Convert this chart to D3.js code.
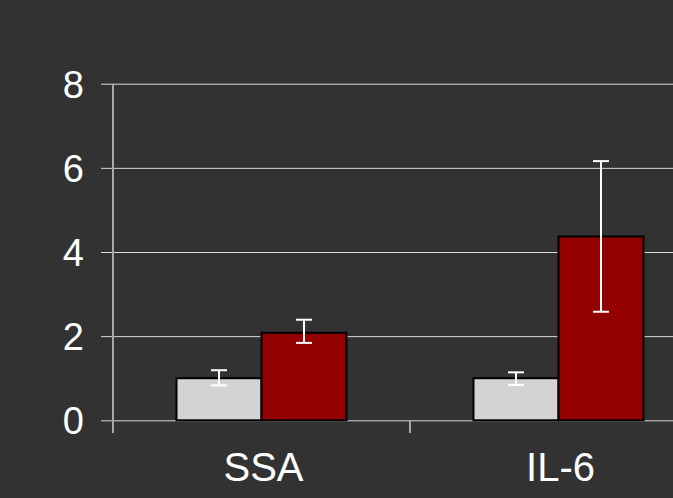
<!DOCTYPE html>
<html>
<head>
<meta charset="utf-8">
<script src="https://cdn.jsdelivr.net/npm/d3@7/dist/d3.min.js"></script>
<style>
  html, body { margin: 0; padding: 0; background: #323232; }
  svg { display: block; }
</style>
</head>
<body>
<svg id="chart" width="673" height="498"></svg>
<script>
// Fold-change of acute-phase markers: control vs. treated
const categories = ["SSA", "IL-6"];
const groups = ["control", "treated"];
const controlValues = [1.0, 1.0];
const treatedValues = [2.08, 4.37];
const controlLow = [0.83, 0.84];
const controlHigh = [1.19, 1.14];
const treatedLow = [1.84, 2.58];
const treatedHigh = [2.39, 6.16];
const yTicks = [0, 2, 4, 6, 8];

const colors = { control: "#d3d3d3", treated: "#920000" };

const svg = d3.select("#chart");
const W = 673, H = 498;
const plotLeft = 113, plotBottom = 420.3;

const x = d3.scaleBand().domain(categories).range([plotLeft, plotLeft + 594]).paddingInner(0).paddingOuter(0);
const inner = d3.scaleBand().domain(groups).range([0, x.bandwidth()]).paddingInner(0).paddingOuter(0.747);
const y = d3.scaleLinear().domain([0, 8]).range([plotBottom, 83.7]);

// horizontal gridlines with short left ticks
const grid = svg.append("g")
  .attr("transform", `translate(${plotLeft},0)`)
  .call(d3.axisLeft(y).tickValues(yTicks).tickSize(-(W - plotLeft + 40)).tickSizeOuter(0).tickFormat(""));
grid.select(".domain").remove();
grid.selectAll(".tick line").attr("stroke", "#d8d8d8").attr("stroke-width", 1).attr("x1", -12);

// y axis labels
const yAxis = svg.append("g")
  .attr("transform", `translate(${plotLeft},0)`)
  .call(d3.axisLeft(y).tickValues(yTicks).tickSize(0).tickPadding(29).tickFormat(d3.format("d")));
yAxis.select(".domain").remove();
yAxis.selectAll("text")
  .attr("fill", "#ffffff")
  .attr("font-family", "Liberation Sans, Arial, sans-serif")
  .attr("font-size", 38)
  .attr("dy", "0.36em");

// bars
const rows = categories.map((c, i) => ({
  cat: c,
  items: [
    { g: "control", v: controlValues[i], lo: controlLow[i], hi: controlHigh[i] },
    { g: "treated", v: treatedValues[i], lo: treatedLow[i], hi: treatedHigh[i] }
  ]
}));

const cat = svg.append("g").selectAll("g").data(rows).join("g")
  .attr("transform", d => `translate(${x(d.cat)},0)`);

cat.selectAll("rect").data(d => d.items).join("rect")
  .attr("x", d => inner(d.g))
  .attr("y", d => y(d.v))
  .attr("width", inner.bandwidth())
  .attr("height", d => y(0) - y(d.v))
  .attr("fill", d => colors[d.g])
  .attr("stroke", "#000")
  .attr("stroke-width", 2);

// error bars
const eb = cat.selectAll("g.err").data(d => d.items).join("g").attr("class", "err")
  .attr("transform", d => `translate(${inner(d.g) + inner.bandwidth() / 2},0)`);
eb.append("line")
  .attr("x1", 0).attr("x2", 0)
  .attr("y1", d => y(d.hi)).attr("y2", d => y(d.lo))
  .attr("stroke", "#ffffff").attr("stroke-width", 2);
eb.append("line")
  .attr("x1", -8).attr("x2", 8)
  .attr("y1", d => y(d.hi)).attr("y2", d => y(d.hi))
  .attr("stroke", "#ffffff").attr("stroke-width", 2);
eb.append("line")
  .attr("x1", -8).attr("x2", 8)
  .attr("y1", d => y(d.lo)).attr("y2", d => y(d.lo))
  .attr("stroke", "#ffffff").attr("stroke-width", 2);

// vertical axis line
svg.append("line")
  .attr("x1", plotLeft).attr("x2", plotLeft)
  .attr("y1", y(8)).attr("y2", 433)
  .attr("stroke", "#a8a8a8").attr("stroke-width", 2);

// x axis: category labels
const xAxis = svg.append("g")
  .attr("transform", `translate(0,${plotBottom})`)
  .call(d3.axisBottom(x).tickSize(0).tickPadding(60));
xAxis.select(".domain").remove();
xAxis.selectAll("text")
  .attr("fill", "#ffffff")
  .attr("font-family", "Liberation Sans, Arial, sans-serif")
  .attr("font-size", 40)
  .attr("dx", 2)
  .attr("dy", "0.5");
// separator tick between categories
svg.append("line")
  .attr("x1", x("IL-6")).attr("x2", x("IL-6"))
  .attr("y1", plotBottom).attr("y2", 433)
  .attr("stroke", "#a8a8a8").attr("stroke-width", 2);
</script>
</body>
</html>
